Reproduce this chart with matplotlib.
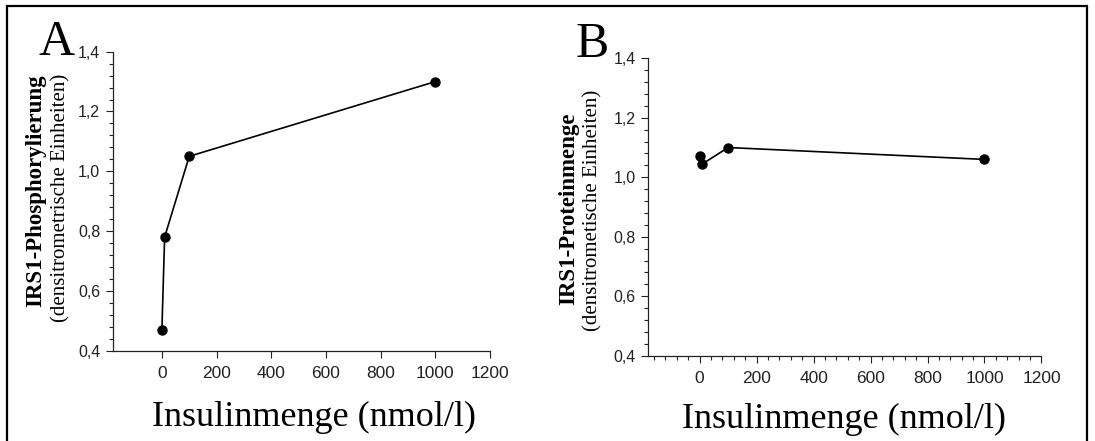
import matplotlib
matplotlib.use('Agg')
import matplotlib.pyplot as plt
from matplotlib.ticker import MultipleLocator, FuncFormatter
from matplotlib.patches import Rectangle

# Insulin dose (nmol/l) and densitometric units
insulin = [0, 10, 100, 1000]
phospho = [0.47, 0.78, 1.05, 1.30]
protein = [1.07, 1.045, 1.10, 1.06]

SERIF = 'Liberation Serif'
SANS = 'Liberation Sans'


def comma_fmt(v, pos):
    return f'{v:.1f}'.replace('.', ',')


def style_axis(ax, minor_x):
    ax.set_xlim(-180, 1200)
    ax.set_ylim(0.4, 1.4)
    for side in ('top', 'right'):
        ax.spines[side].set_visible(False)
    for side in ('left', 'bottom'):
        ax.spines[side].set_linewidth(0.9)
        ax.spines[side].set_color('#222222')
    ax.set_xticks([0, 200, 400, 600, 800, 1000, 1200])
    ax.yaxis.set_major_locator(MultipleLocator(0.2))
    ax.yaxis.set_minor_locator(MultipleLocator(0.04))
    if minor_x:
        ax.xaxis.set_minor_locator(MultipleLocator(40))
    ax.yaxis.set_major_formatter(FuncFormatter(comma_fmt))
    ax.tick_params(which='major', direction='out', length=5, width=0.8,
                   color='#222222')
    ax.tick_params(which='minor', direction='out', length=3, width=0.8,
                   color='#222222')
    ax.tick_params(axis='y', which='major', labelsize=11.5, pad=4)
    ax.tick_params(axis='x', which='major', labelsize=12.5, pad=6)
    for lab in ax.get_xticklabels() + ax.get_yticklabels():
        lab.set_family(SANS)
        lab.set_color('#222222')


fig = plt.figure(figsize=(10.95, 4.41), dpi=100)

axA = fig.add_axes([0.1029, 0.2048, 0.3446, 0.678])
axA.plot(insulin, phospho, '-o', color='black', lw=1.2, ms=6.5)
style_axis(axA, minor_x=False)

axB = fig.add_axes([0.5921, 0.1934, 0.359, 0.6744])
axB.plot(insulin, protein, '-o', color='black', lw=1.2, ms=6.5)
style_axis(axB, minor_x=True)

# panel letters
fig.text(57 / 1095, 1 - 43 / 441, 'A', family=SERIF, fontsize=36,
         ha='center', va='center')
fig.text(592 / 1095, 1 - 45 / 441, 'B', family=SERIF, fontsize=36,
         ha='center', va='center')

# y-axis titles, two lines each
fig.text(36 / 1095, 1 - 191 / 441, 'IRS1-Phosphorylierung', family=SERIF,
         fontweight='bold', fontsize=16.5, rotation=90, ha='center', va='center')
fig.text(61 / 1095, 1 - 198 / 441, '(densitrometrische Einheiten)', family=SERIF,
         fontsize=15, rotation=90, ha='center', va='center')
fig.text(569 / 1095, 1 - 209 / 441, 'IRS1-Proteinmenge', family=SERIF,
         fontweight='bold', fontsize=16.5, rotation=90, ha='center', va='center')
fig.text(593 / 1095, 1 - 210 / 441, '(densitrometische Einheiten)', family=SERIF,
         fontsize=15, rotation=90, ha='center', va='center')

# x-axis titles
fig.text(314 / 1095, 1 - 417 / 441, 'Insulinmenge (nmol/l)', family=SERIF,
         fontsize=26, ha='center', va='center')
fig.text(844 / 1095, 1 - 419 / 441, 'Insulinmenge (nmol/l)', family=SERIF,
         fontsize=26, ha='center', va='center')

# frame around the figure, open at the bottom
fig.patches.append(Rectangle((7 / 1095, -0.1), 1080 / 1095, 1.1 - 5.5 / 441,
                             transform=fig.transFigure, fill=False,
                             edgecolor='black', lw=1.6, clip_on=False))

fig.savefig('out.png', dpi=100)
